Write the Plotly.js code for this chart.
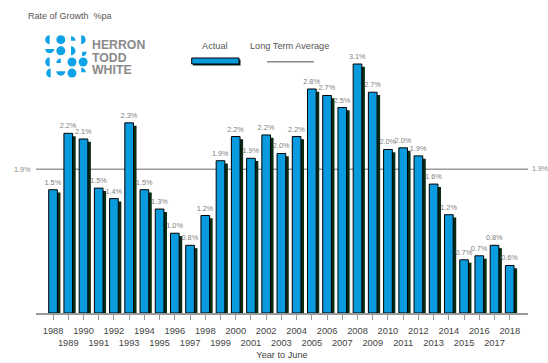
<!DOCTYPE html>
<html>
<head>
<meta charset="utf-8">
<script src="https://cdn.plot.ly/plotly-3.0.1.min.js"></script>
<style>
html,body{margin:0;padding:0;background:#fff;}
#chart{width:548px;height:363px;}
</style>
</head>
<body>
<div id="chart"></div>
<script>
// ---- data ----
const years = [1988,1989,1990,1991,1992,1993,1994,1995,1996,1997,1998,1999,2000,2001,2002,2003,2004,2005,2006,2007,2008,2009,2010,2011,2012,2013,2014,2015,2016,2017,2018];
const growth = [1.53,2.23,2.16,1.55,1.42,2.36,1.53,1.29,0.99,0.84,1.21,1.89,2.19,1.92,2.21,1.98,2.19,2.78,2.70,2.55,3.09,2.74,2.03,2.05,1.95,1.60,1.22,0.66,0.71,0.84,0.59];
const growthLabels = ['1.5%','2.2%','2.1%','1.5%','1.4%','2.3%','1.5%','1.3%','1.0%','0.8%','1.2%','1.9%','2.2%','1.9%','2.2%','2.0%','2.2%','2.8%','2.7%','2.5%','3.1%','2.7%','2.0%','2.0%','1.9%','1.6%','1.2%','0.7%','0.7%','0.8%','0.6%'];
const longTermAvg = 1.785;
const longTermLabel = '1.9%';
const tickLabels = years.map(y => (y % 2 === 0 ? String(y) : '<br>' + y));

// ---- geometry helpers (plot area in pixels) ----
const W = 548, H = 363;
const M = {l: 36, r: 20, t: 31, b: 50};
const PW = W - M.l - M.r, PH = H - M.t - M.b;
const px = x => (x - M.l) / PW;
const py = y => (H - M.b - y) / PH;

const FONT = 'Arial, "Liberation Sans", sans-serif';
const BLUE = '#0a9ade';
const SHADOW = '#0b2a12';

const shadowTrace = {
  type: 'bar', x: years, y: growth, base: -0.035,
  width: 0.57, offset: -0.085,
  marker: {color: SHADOW, line: {width: 0}},
  cliponaxis: false, hoverinfo: 'skip', showlegend: false
};
const mainTrace = {
  type: 'bar', x: years, y: growth, name: 'Actual',
  width: 0.57, offset: -0.285,
  marker: {color: BLUE, line: {color: '#000', width: 1}},
  text: growthLabels, textposition: 'outside', constraintext: 'none',
  textfont: {family: FONT, size: 7.3, color: '#808080'},
  cliponaxis: false, showlegend: false
};

// logo dots as svg
function logoSvg() {
  const r = 4.6, c = [4.8, 16.2, 27.6, 39];
  const col = '#0ea2e6';
  const circ = (x, y, rr) => `<circle cx="${x}" cy="${y}" r="${rr||r}" fill="${col}"/>`;
  const halfL = (x, y) => `<path d="M${x},${y-r} A${r},${r} 0 0 0 ${x},${y+r} Z" fill="${col}"/>`;
  const halfR = (x, y) => `<path d="M${x},${y-r} A${r},${r} 0 0 1 ${x},${y+r} Z" fill="${col}"/>`;
  const halfB = (x, y) => `<path d="M${x-r},${y} A${r},${r} 0 0 0 ${x+r},${y} Z" fill="${col}"/>`;
  const quad = (x, y, sx, sy) => `<path d="M${x},${y} L${x+sx*r},${y} A${r},${r} 0 0 ${sx*sy>0?1:0} ${x},${y+sy*r} Z" fill="${col}"/>`;
  let s = '';
  s += halfL(c[0], c[0]) + circ(c[1], c[0]) + quad(c[2]-1, c[0]+1, 1, -1) + halfR(c[3]-2, c[0]);
  s += halfB(c[0], c[1]-2) + circ(c[1], c[1]) + halfR(c[2]-1, c[1]) + quad(c[3]-1, c[1]+1, 1, 1);
  s += halfL(c[0], c[2]) + quad(c[1], c[2]+1, -1, -1) + circ(c[2], c[2]) + circ(c[3], c[2]);
  s += halfL(c[0]+1, c[3]) + halfB(c[1], c[3]-2) + circ(c[2], c[3]) + quad(c[3]-2, c[3]-1, 1, -1);
  const svg = `<svg xmlns="http://www.w3.org/2000/svg" width="44" height="44" viewBox="0 0 44 44">${s}</svg>`;
  return 'data:image/svg+xml;base64,' + btoa(svg);
}

const annFont = (size, color) => ({family: FONT, size: size, color: color});
const annotations = [
  {text: longTermLabel, xref: 'paper', yref: 'y', x: 0, y: longTermAvg, xanchor: 'right', yanchor: 'middle', xshift: -3, showarrow: false, font: annFont(7.3, '#888')},
  {text: longTermLabel, xref: 'paper', yref: 'y', x: 1, y: longTermAvg, xanchor: 'left', yanchor: 'middle', xshift: 1.5, showarrow: false, font: annFont(7.1, '#888')},
  {text: 'Actual', xref: 'paper', yref: 'paper', x: px(215), y: py(45.7), xanchor: 'center', yanchor: 'middle', showarrow: false, font: annFont(9.2, '#555')},
  {text: 'Long Term Average', xref: 'paper', yref: 'paper', x: px(289.5), y: py(45.7), xanchor: 'center', yanchor: 'middle', showarrow: false, font: annFont(9.2, '#555')},
  {text: '<b>HERRON</b>', xref: 'paper', yref: 'paper', x: px(90), y: py(45), xanchor: 'left', yanchor: 'middle', showarrow: false, font: annFont(12.3, '#8a8a8a')},
  {text: '<b>TODD</b>', xref: 'paper', yref: 'paper', x: px(90), y: py(57.5), xanchor: 'left', yanchor: 'middle', showarrow: false, font: annFont(12.3, '#8a8a8a')},
  {text: '<b>WHITE</b>', xref: 'paper', yref: 'paper', x: px(90), y: py(70), xanchor: 'left', yanchor: 'middle', showarrow: false, font: annFont(12.3, '#8a8a8a')}
];

const shapes = [
  {type: 'line', xref: 'paper', yref: 'y', x0: 0, x1: 1, y0: longTermAvg, y1: longTermAvg, line: {color: '#999', width: 1.5}, layer: 'below'},
  {type: 'rect', xref: 'paper', yref: 'paper', x0: px(193), x1: px(240.5), y0: py(59.5), y1: py(65.5), fillcolor: SHADOW, line: {width: 0}},
  {type: 'rect', xref: 'paper', yref: 'paper', x0: px(191.7), x1: px(239), y0: py(58), y1: py(64), fillcolor: BLUE, line: {color: '#000', width: 1}},
  {type: 'line', xref: 'paper', yref: 'paper', x0: px(267), x1: px(314), y0: py(61.7), y1: py(61.7), line: {color: '#888', width: 1.5}}
];

const layout = {
  width: W, height: H,
  margin: M,
  paper_bgcolor: '#fff', plot_bgcolor: '#fff',
  font: {family: FONT},
  barmode: 'overlay',
  showlegend: false,
  title: {text: 'Rate of Growth \u00a0%pa', xref: 'container', yref: 'container', x: 28 / W, xanchor: 'left', y: 1 - 15.7 / H, yanchor: 'middle', font: {family: FONT, size: 9, color: '#555'}},
  xaxis: {
    type: 'linear', range: [1986.88, 2019.2], fixedrange: true,
    tickvals: years, ticktext: tickLabels, tickangle: 0,
    ticks: 'outside', ticklen: 5, tickcolor: '#999', tickwidth: 1,
    ticklabelstandoff: 3,
    showline: true, linecolor: '#999', linewidth: 1.5,
    showgrid: false, zeroline: false,
    tickfont: {family: FONT, size: 9.3, color: '#444'},
    title: {text: 'Year to June', font: {family: FONT, size: 9.2, color: '#444'}, standoff: 5}
  },
  yaxis: {range: [0, 3.5], visible: false, fixedrange: true},
  annotations: annotations,
  shapes: shapes,
  images: [{source: logoSvg(), xref: 'paper', yref: 'paper', x: px(45), y: py(35), sizex: 43 / PW, sizey: 43 / PH, xanchor: 'left', yanchor: 'top', sizing: 'stretch', layer: 'above'}]
};

Plotly.newPlot('chart', [shadowTrace, mainTrace], layout, {displayModeBar: false, staticPlot: true});
</script>
</body>
</html>
